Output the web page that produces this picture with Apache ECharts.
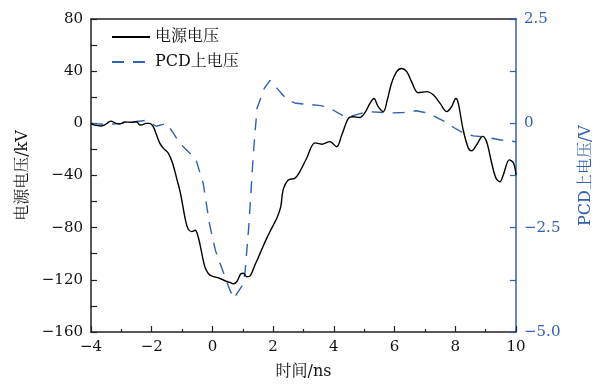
<!DOCTYPE html>
<html>
<head>
<meta charset="utf-8">
<script src="https://cdn.jsdelivr.net/npm/echarts@6/dist/echarts.min.js"></script>
<style>
html,body{margin:0;padding:0;background:#fff;}
#c{width:608px;height:385px;}
</style>
</head>
<body>
<div id="c"></div>
<script>
// Power-supply voltage (kV) vs time (ns)
const srcTime = [-4,-3.88,-3.66,-3.5,-3.35,-3.17,-3.05,-2.89,-2.67,-2.5,-2.39,-2.29,-2.2,-2.07,-1.95,-1.84,-1.73,-1.62,-1.45,-1.32,-1.18,-1.05,-0.89,-0.8,-0.68,-0.57,-0.47,-0.35,-0.25,-0.14,-0.03,0.25,0.41,0.58,0.69,0.8,0.93,1.02,1.13,1.24,1.4,1.57,1.79,1.95,2.12,2.25,2.33,2.5,2.72,2.88,3.1,3.38,3.6,3.87,4.09,4.26,4.48,4.64,4.86,5.02,5.19,5.32,5.46,5.63,5.76,5.9,6.07,6.23,6.4,6.56,6.78,7.06,7.28,7.5,7.72,7.88,8.02,8.1,8.26,8.43,8.54,8.7,8.9,9.03,9.2,9.34,9.47,9.58,9.78,9.92,10];
const srcVolt = [0,-1.4,-2,-0.5,1.7,0,-0.5,1,0.8,1.2,-1.3,-1,0,0,-2.6,-9,-15.4,-19,-23,-30,-42,-54,-74,-81,-83,-82,-87,-99.7,-110,-115,-117,-119,-120.7,-122,-123,-121.5,-115.5,-115,-117.6,-117,-108.6,-99.7,-88,-80.5,-72.8,-64,-51,-43.5,-42,-37,-27,-15,-16,-14,-18,-9,3.8,5,4.5,8,15.3,19,12.8,9,18,30.7,39.6,42,39.6,32,23.5,24.3,21.7,15.3,9,12.8,19,15.3,-5,-19,-21,-16.6,-10,-14,-30.6,-42,-44.8,-39.6,-28,-30.6,-39.6];
// PCD voltage (V) vs time (ns)
const pcdTime = [-4,-3.5,-3.0,-2.2,-1.85,-1.5,-1.05,-0.55,-0.3,-0.1,0.1,0.35,0.55,0.7,0.97,1.07,1.2,1.35,1.47,1.71,1.9,2.15,2.45,2.75,3.5,3.8,4.4,5.1,5.9,6.3,6.7,7.0,7.33,7.66,7.95,8.3,8.6,9.0,9.5,10];
const pcdVolt = [0,-0.03,0,0.07,-0.07,0,-0.5,-0.85,-1.45,-2.4,-3.05,-3.55,-3.95,-4.2,-3.9,-3.6,-2.45,-0.7,0.36,0.84,1.03,0.82,0.57,0.48,0.43,0.39,0.14,0.28,0.25,0.26,0.3,0.26,0.16,0.04,-0.1,-0.25,-0.3,-0.33,-0.4,-0.44];
const xTicks = {min:-4, max:10, step:2};
const leftTicks = {min:-160, max:80, step:40};
const rightTicks = {min:-5, max:2.5, step:2.5};
const names = {src:'电源电压', pcd:'PCD上电压', x:'时间/ns', yl:'电源电压/kV', yr:'PCD上电压/V'};

const BLUE = '#2f60b0';
const FONT = '"DejaVu Serif","Noto Serif CJK SC","Noto Sans CJK SC",serif';
const minus = s => String(s).replace('-', '\u2212');

const chart = echarts.init(document.getElementById('c'));
chart.setOption({
  animation:false,
  backgroundColor:'#fff',
  textStyle:{fontFamily:FONT},
  grid:{left:91, right:92, top:19, bottom:53},
  legend:{
    left:106, top:24, orient:'vertical', itemGap:9, itemWidth:38, itemHeight:12,
    textStyle:{fontFamily:FONT, fontSize:16, color:'#111'},
    itemStyle:{opacity:0},
    data:[names.src, names.pcd]
  },
  xAxis:[{
    type:'value', min:xTicks.min, max:xTicks.max, interval:xTicks.step,
    name:names.x, nameLocation:'middle', nameGap:32,
    nameTextStyle:{fontSize:16, color:'#111', fontFamily:FONT},
    axisLine:{onZero:false, lineStyle:{color:'#222', width:1.5}},
    axisTick:{inside:true, length:6, lineStyle:{color:'#222', width:1.2}},
    minorTick:{show:true, splitNumber:2, length:3, lineStyle:{color:'#222', width:1.2}},
    axisLabel:{fontSize:15, color:'#111', margin:8, formatter:v=>minus(v)},
    splitLine:{show:false}
  },{
    type:'value', position:'top', min:xTicks.min, max:xTicks.max,
    axisLine:{onZero:false, lineStyle:{color:'#222', width:1.5}},
    axisTick:{show:false}, axisLabel:{show:false}, splitLine:{show:false}
  }],
  yAxis:[{
    type:'value', min:leftTicks.min, max:leftTicks.max, interval:leftTicks.step,
    name:names.yl, nameLocation:'middle', nameGap:57, nameRotate:90,
    nameTextStyle:{fontSize:16, color:'#111', fontFamily:FONT},
    axisLine:{show:true, onZero:false, lineStyle:{color:'#222', width:1.5}},
    axisTick:{inside:true, length:6, lineStyle:{color:'#222', width:1.2}},
    minorTick:{show:true, splitNumber:2, length:6, lineStyle:{color:'#222', width:1.2}},
    axisLabel:{fontSize:15, color:'#111', margin:8, formatter:v=>minus(v)},
    splitLine:{show:false}
  },{
    type:'value', position:'right', min:rightTicks.min, max:rightTicks.max, interval:rightTicks.step,
    name:names.yr, nameLocation:'middle', nameGap:62, nameRotate:90,
    nameTextStyle:{fontSize:16, color:BLUE, fontFamily:FONT},
    axisLine:{show:true, onZero:false, lineStyle:{color:BLUE, width:1.5}},
    axisTick:{inside:true, length:6, lineStyle:{color:BLUE, width:1.2}},
    minorTick:{show:true, splitNumber:2, length:6, lineStyle:{color:BLUE, width:1.2}},
    axisLabel:{fontSize:15, color:BLUE, margin:8, formatter:v=>v===0?'0':minus(v.toFixed(1))},
    splitLine:{show:false}
  }],
  series:[{
    name:names.src, type:'line', xAxisIndex:0, yAxisIndex:0,
    data:srcTime.map((t,i)=>[t, srcVolt[i]]),
    symbol:'none', smooth:0.35, z:3,
    lineStyle:{color:'#000', width:1.4},
    itemStyle:{color:'#000'}
  },{
    name:names.pcd, type:'line', xAxisIndex:0, yAxisIndex:1,
    data:pcdTime.map((t,i)=>[t, pcdVolt[i]]),
    symbol:'none', z:2,
    lineStyle:{color:BLUE, width:1.4, type:[12,9]},
    itemStyle:{color:BLUE}
  }]
});
</script>
</body>
</html>
